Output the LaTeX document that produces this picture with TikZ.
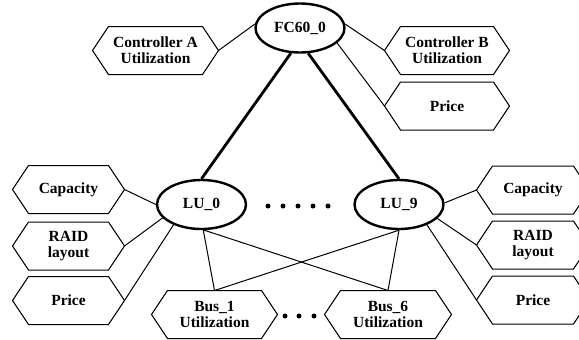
\documentclass[tikz,border=0pt]{standalone}
\usepackage{fontspec}
\setmainfont{Liberation Serif}
\usetikzlibrary{shapes.geometric}
\newcommand{\lblfont}{\fontsize{7.75}{8}\selectfont\bfseries}
\tikzset{
  attr/.style={minimum width=#1, minimum height=23.5pt, align=center, font=\lblfont,
    append after command={\pgfextra{\draw[line width=0.5pt]
      ([xshift=8pt]\tikzlastnode.north west) -- ([xshift=-8pt]\tikzlastnode.north east)
      -- (\tikzlastnode.east) -- ([xshift=-8pt]\tikzlastnode.south east)
      -- ([xshift=8pt]\tikzlastnode.south west) -- (\tikzlastnode.west) -- cycle;}}}
}
\begin{document}
\begin{tikzpicture}[x=0.5pt,y=-0.5pt,line width=0.5pt]
\tikzstyle{every node}+=[inner sep=0pt]
\tikzstyle{unit}=[ellipse, draw, line width=1.2pt, minimum width=44.5pt, minimum height=24.5pt, font=\lblfont]
\tikzstyle{trunk}=[line width=1.4pt]
\useasboundingbox (0,0) rectangle (579,339);

% controller level
\node[unit] (fc) at (300,28) {FC60\_0};
\node[attr=62.5pt] (ctrlA) at (155.5,50.5) {Controller A\\Utilization};
\node[attr=62pt] (ctrlB) at (447,50.5) {Controller B\\Utilization};
\node[attr=62pt] (fcprice) at (447,106) {Price};

% logical units
\node[unit] (lu0) at (201.5,204.5) {LU\_0};
\node[unit] (lu9) at (399,204.5) {LU\_9};
\node[attr=55.5pt] (cap0) at (68.5,189.5) {Capacity};
\node[attr=55.5pt] (raid0) at (68.5,246) {RAID\\layout};
\node[attr=55.5pt] (price0) at (68.5,300.5) {Price};
\node[attr=56pt] (cap9) at (533,190) {Capacity};
\node[attr=56pt] (raid9) at (533,245) {RAID\\layout};
\node[attr=56pt] (price9) at (533,300) {Price};

% buses
\node[attr=62.5pt] (bus1) at (214.5,314.5) {Bus\_1\\Utilization};
\node[attr=63pt] (bus6) at (388,314.5) {Bus\_6\\Utilization};

\foreach \x in {268,283,298,313,328} \fill (\x,206) circle (1.25pt);
\foreach \x in {285,299,314} \fill (\x,316) circle (1.25pt);

\draw[trunk] (fc.250) -- (lu0.north);
\draw[trunk] (fc.288) -- (lu9.north);

\draw (fc.175) -- (ctrlA.east);
\draw (fc.5) -- (ctrlB.west);
\draw (fc.-22) -- (fcprice.west);

\draw (lu0.180) -- (cap0.east);
\draw (lu0.199) -- (raid0.east);
\draw (lu0.216) -- (price0.east);
\draw (lu9.2) -- (cap9.west);
\draw (lu9.-20) -- (raid9.west);
\draw (lu9.-36) -- (price9.west);

\draw (lu0.-86) -- (bus1.north);
\draw (lu0.-84) -- (bus6.north);
\draw (lu9.south) -- (bus1.north);
\draw (lu9.south) -- (bus6.north);

\end{tikzpicture}
\end{document}
